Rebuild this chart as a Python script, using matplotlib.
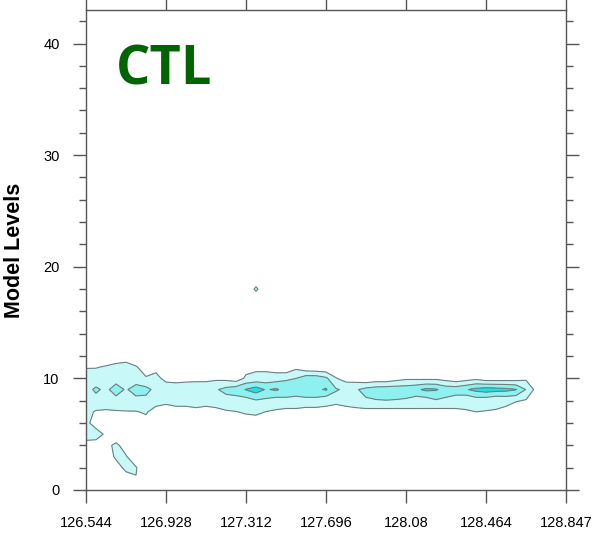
import numpy as np
import matplotlib
matplotlib.use("Agg")
import matplotlib.pyplot as plt
from matplotlib.ticker import MultipleLocator

# x positions of the cross section (longitude), model levels 0..43
lon_start = 126.544
lon_end = 128.847
n_lon = 49
n_level = 44

xtick_values = [126.544, 126.928, 127.312, 127.696, 128.08, 128.464, 128.847]
xtick_labels = ["126.544", "126.928", "127.312", "127.696", "128.08", "128.464", "128.847"]
ytick_values = [0, 10, 20, 30, 40]

contour_levels = [1, 2, 3, 10]
fill_colors = ["#c8f8f8", "#8ff0f0", "#22e0e8"]

# one profile per longitude, values at model levels 0..12
field_profiles = [
    [0, 0, 0, 0, 0.6, 1.5, 1.3, 1.3, 1.5, 1.7, 1.4, 0.95, 0],
    [0, 0, 0, 0, 0.5, 1.5, 0.5, 0.9, 1.7, 2.15, 1.5, 0.95, 0],
    [0, 0, 0, 0, 0.6, 0.8, 0.3, 0.85, 1.6, 1.8, 1.5, 1.1, 0.3],
    [0, 0, 0.3, 1.3, 1.3, 0, 0.3, 0.9, 1.7, 2.4, 1.6, 1.3, 0.4],
    [0, 0.3, 1.4, 1.1, 0.4, 0, 0.4, 0.95, 1.6, 1.9, 1.6, 1.4, 0.5],
    [0, 0.95, 1.1, 0, 0, 0, 0.4, 0.95, 1.7, 2.4, 1.5, 1.1, 0.2],
    [0, 0, 0, 0, 0, 0, 0.7, 1.1, 1.7, 2.3, 1.1, 0.5, 0],
    [0, 0, 0, 0, 0, 0, 0, 0.6, 1.4, 1.7, 1.3, 0.7, 0],
    [0, 0, 0, 0, 0, 0, 0, 0.4, 1.3, 1.6, 0.7, 0, 0],
    [0, 0, 0, 0, 0, 0, 0, 0.6, 1.4, 1.6, 0.6, 0, 0],
    [0, 0, 0, 0, 0, 0, 0, 0.6, 1.4, 1.6, 0.7, 0, 0],
    [0, 0, 0, 0, 0, 0, 0, 0.7, 1.5, 1.7, 0.7, 0, 0],
    [0, 0, 0, 0, 0, 0, 0, 0.6, 1.4, 1.7, 0.7, 0, 0],
    [0, 0, 0, 0, 0, 0, 0, 0.7, 1.5, 1.9, 0.8, 0, 0],
    [0, 0, 0, 0, 0, 0, 0, 0.9, 1.6, 2.3, 0.7, 0, 0],
    [0, 0, 0, 0, 0, 0, 0.3, 0.98, 1.5, 2.6, 0.4, 0, 0],
    [0, 0, 0, 0, 0, 0, 0.6, 1.1, 1.55, 3.05, 1.2, 0.6, 0],
    [0, 0, 0, 0, 0, 0, 0.53, 1.2, 1.9, 3.5, 1.3, 0.8, 0],
    [0, 0, 0, 0, 0, 0, 0.3, 0.98, 1.78, 2.9, 1.4, 0.73, 0],
    [0, 0, 0, 0, 0, 0, 0, 0.88, 1.5, 3.15, 1.5, 0.5, 0],
    [0, 0, 0, 0, 0, 0, 0, 0.68, 1.74, 2.6, 1.85, 0.15, 0],
    [0, 0, 0, 0, 0, 0, 0, 0.74, 1.6, 2.6, 2.0, 0.75, 0],
    [0, 0, 0, 0, 0, 0, 0, 0.53, 1.7, 2.7, 2.6, 0.2, 0],
    [0, 0, 0, 0, 0, 0, 0, 0.56, 1.66, 2.8, 2.6, 0.1, 0],
    [0, 0, 0, 0, 0, 0, 0, 0.73, 1.27, 3.1, 2.2, 0.1, 0],
    [0, 0, 0, 0, 0, 0, 0, 0, 1.5, 2.1, 1.05, 0.3, 0],
    [0, 0, 0, 0, 0, 0, 0, 0.6, 1.4, 1.8, 0.6, 0, 0],
    [0, 0, 0, 0, 0, 0, 0, 0.7, 1.5, 1.9, 0.5, 0, 0],
    [0, 0, 0, 0, 0, 0, 0, 0.63, 1.87, 2.3, 0.2, 0, 0],
    [0, 0, 0, 0, 0, 0, 0, 0.6, 1.94, 2.5, 0.36, 0, 0],
    [0, 0, 0, 0, 0, 0, 0, 0.59, 1.97, 2.6, 0.31, 0, 0],
    [0, 0, 0, 0, 0, 0, 0, 0.6, 1.93, 2.6, 0.6, 0, 0],
    [0, 0, 0, 0, 0, 0, 0, 0.64, 1.85, 2.6, 0.82, 0, 0],
    [0, 0, 0, 0, 0, 0, 0, 0.8, 1.47, 2.8, 0.8, 0, 0],
    [0, 0, 0, 0, 0, 0, 0, 0.79, 1.49, 3.2, 0.76, 0, 0],
    [0, 0, 0, 0, 0, 0, 0, 0.62, 1.88, 3.1, 0.77, 0, 0],
    [0, 0, 0, 0, 0, 0, 0, 0.68, 1.74, 2.6, 0.6, 0, 0],
    [0, 0, 0, 0, 0, 0, 0, 0.83, 1.4, 2.6, 0.31, 0, 0],
    [0, 0, 0, 0, 0, 0, 0, 0.975, 1.1, 2.9, 0.53, 0, 0],
    [0, 0, 0, 0, 0, 0, 0.3, 1.0, 1.44, 3.3, 0.74, 0, 0],
    [0, 0, 0, 0, 0, 0, 0, 0.96, 1.36, 3.5, 0.375, 0, 0],
    [0, 0, 0, 0, 0, 0, 0, 0.98, 1.07, 3.4, 0.4, 0, 0],
    [0, 0, 0, 0, 0, 0, 0, 0.8, 1.2, 3.3, 0.43, 0, 0],
    [0, 0, 0, 0, 0, 0, 0, 0.1, 1.1, 3.05, 0.49, 0, 0],
    [0, 0, 0, 0, 0, 0, 0, 0, 0.9, 1.95, 0.8, 0, 0],
    [0, 0, 0, 0, 0, 0, 0, 0, 0, 0.7, 0, 0, 0],
    [0, 0, 0, 0, 0, 0, 0, 0, 0, 0, 0, 0, 0],
    [0, 0, 0, 0, 0, 0, 0, 0, 0, 0, 0, 0, 0],
    [0, 0, 0, 0, 0, 0, 0, 0, 0, 0, 0, 0, 0],
]

# isolated small spot higher up
blip_index = 17
blip_level = 18
blip_value = 1.25

lons = np.linspace(lon_start, lon_end, n_lon)
levels = np.arange(n_level)
field = np.zeros((n_level, n_lon))
field[:13, :] = np.array(field_profiles).T
field[blip_level, blip_index] = blip_value

fig = plt.figure(figsize=(5.96, 5.33), dpi=100)
ax = fig.add_axes([0.1443, 0.0807, 0.8054, 0.9005])

ax.contourf(lons, levels, field, levels=contour_levels, colors=fill_colors)
ax.contour(lons, levels, field, levels=contour_levels[:3], colors="#6e7e7e", linewidths=0.8)

ax.set_xlim(lon_start, lon_end)
ax.set_ylim(0, 43)
ax.set_xticks(xtick_values)
ax.set_xticklabels(xtick_labels)
ax.set_yticks(ytick_values)
ax.yaxis.set_minor_locator(MultipleLocator(2))

for sp in ax.spines.values():
    sp.set_color("#555555")
    sp.set_linewidth(1.0)

ax.tick_params(which="both", direction="out", top=True, right=True, color="#555555", width=1.0)
ax.tick_params(which="major", length=9.5, pad=9.5, labelsize=10.5)
ax.tick_params(which="minor", length=5)
for lab in ax.get_xticklabels() + ax.get_yticklabels():
    lab.set_family("Liberation Sans")

ax.set_ylabel("Model Levels", fontsize=15.5, fontweight="bold", family="Liberation Sans")
ax.yaxis.set_label_coords(-0.128, 0.5)

ax.text(0.062, 0.844, "CTL", transform=ax.transAxes, ha="left", va="baseline",
        fontsize=39, fontweight="bold", color="#006400", family="Open Sans")

fig.savefig("out.png", dpi=100)
